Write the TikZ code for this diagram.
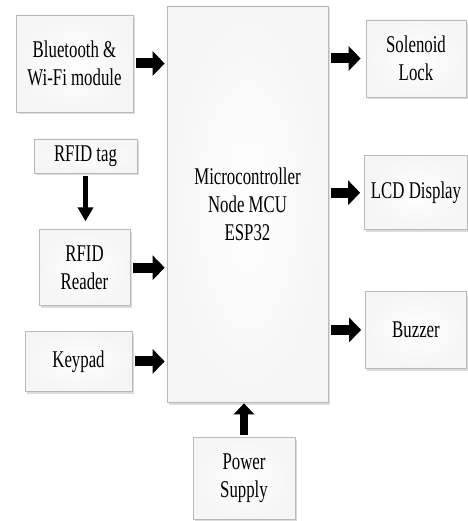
\documentclass[tikz,border=0pt]{standalone}
\usepackage{fontspec}
\setmainfont{Liberation Serif}[FakeStretch=0.7]
\usetikzlibrary{positioning,arrows.meta,shadows}

\begin{document}
\begin{tikzpicture}[
  x=1pt, y=1pt,
  node distance=34pt and 33pt,
  box/.style={draw=gray!55, inner color=white, outer color=gray!8, line width=0.7pt, align=center, inner sep=2pt,
    font=\fontsize{24}{28}\selectfont,
    drop shadow={shadow xshift=1.5pt, shadow yshift=-2.5pt, opacity=0.35, fill=gray!80}},
  arr/.style={line width=10pt, -{Triangle[length=12pt,width=24pt]}, shorten <=2.5pt},
  slim/.style={line width=4.5pt, -{Triangle[length=14pt,width=15pt]}}
]
\useasboundingbox (0,0) rectangle (467,-521);

% controller in the middle
\node[box, minimum width=161pt, minimum height=396pt] (mcu) at (247.5,-204) {Microcontroller\\Node MCU\\ESP32};

% inputs on the left
\node[box, minimum width=117pt, minimum height=97pt] (bt) at (74.5,-63.5) {Bluetooth \&\\Wi-Fi module};
\node[box, minimum width=103pt, minimum height=34pt] (tag) at (85.5,-156) {RFID tag};
\node[box, below=56pt of tag, xshift=-1pt, minimum width=91pt, minimum height=76pt] (reader) {RFID\\Reader};
\node[box, below=25pt of reader, xshift=-6pt, minimum width=107pt, minimum height=60pt] (keypad) {Keypad};
\node[box, below=35pt of mcu, xshift=-3.5pt, minimum width=102pt, minimum height=82pt] (power) {Power\\Supply};

% outputs on the right
\node[box, minimum width=100pt, minimum height=77pt] (lock) at (416,-58.5) {Solenoid\\Lock};
\node[box, below=58pt of lock, minimum width=103pt, minimum height=74pt] (lcd) {LCD Display};
\node[box, below=61pt of lcd, minimum width=101pt, minimum height=77pt] (buzzer) {Buzzer};

% links
\draw[arr, shorten >=2pt] (bt.east) -- (bt.east -| mcu.west);
\draw[slim, shorten <=3pt, shorten >=8pt] (tag.south) -- (tag.south |- reader.north);
\draw[arr, shorten >=2pt] (reader.east) -- (reader.east -| mcu.west);
\draw[arr, shorten >=2pt] (keypad.east) -- (keypad.east -| mcu.west);
\draw[arr, line width=8pt, -{Triangle[length=11pt,width=20pt]}, shorten >=1pt] (power.north) -- (power.north |- mcu.south);
\draw[arr, shorten >=5pt] (mcu.east |- lock.west) -- (lock.west);
\draw[arr, shorten >=4pt] (mcu.east |- lcd.west) -- (lcd.west);
\draw[arr, shorten >=4pt] (mcu.east |- buzzer.west) -- (buzzer.west);
\end{tikzpicture}
\end{document}
